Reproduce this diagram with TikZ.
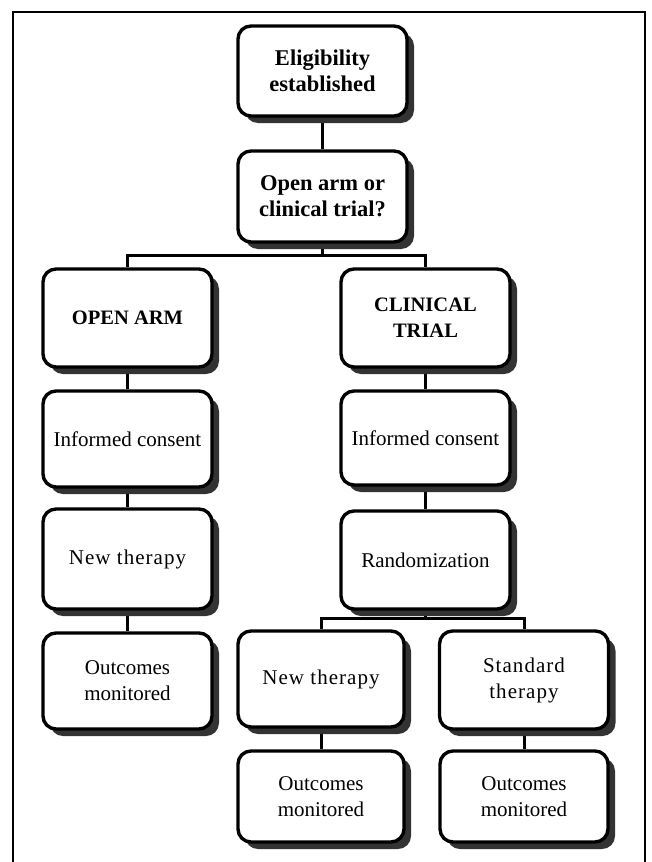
\documentclass[tikz,border=0pt]{standalone}
\usepackage{fontspec}
\setmainfont{Liberation Serif}
\usetikzlibrary{shadows,backgrounds}
\begin{document}
\begin{tikzpicture}[x=1pt,y=-1pt,
  box/.style={draw=black, line width=3.4pt, rounded corners=13pt, fill=white,
    align=center, minimum width=169pt, inner sep=0pt,
    font=\fontsize{21}{26}\selectfont,
    general shadow={shadow xshift=7pt, shadow yshift=-7pt, fill=black!80}},
  boldbox/.style={box, font=\bfseries\fontsize{22.5}{26}\selectfont},
  capsbox/.style={box, font=\bfseries\fontsize{20.5}{26}\selectfont},
  link/.style={line width=3pt},
  frame/.style={line width=2.2pt}]
\useasboundingbox (0,0) rectangle (651,862);
\draw[frame] (13,862) -- (13,12) -- (645,12) -- (645,862);

\node[boldbox, minimum height=90pt] (elig) at (322.5,71) {Eligibility\\established};
\node[boldbox, minimum height=91pt] (q) at (322.5,196.5) {Open arm or\\clinical trial?};
\node[capsbox, minimum height=98pt] (oa) at (127.5,318) {OPEN ARM};
\node[capsbox, minimum height=98pt] (ct) at (425.5,318) {CLINICAL\\TRIAL};
\node[box, minimum height=96pt] (ic1) at (127.5,439) {Informed consent};
\node[box, minimum height=94pt] (ic2) at (425.5,438) {Informed consent};
\node[box, minimum height=100pt] (nt1) at (127.5,559) {\addfontfeature{LetterSpace=5}New therapy};
\node[box, minimum height=98pt] (rand) at (425.5,560) {Randomization};
\node[box, minimum height=96pt] (out1) at (127.5,681) {Outcomes\\monitored};
\node[box, minimum width=166pt, minimum height=96pt] (nt2) at (321,679) {\addfontfeature{LetterSpace=5}New therapy};
\node[box, minimum height=98pt] (st) at (524,680) {\addfontfeature{LetterSpace=5}Standard\\\addfontfeature{LetterSpace=5}therapy};
\node[box, minimum width=166pt, minimum height=91pt] (out2) at (321,796.5) {Outcomes\\monitored};
\node[box, minimum width=168pt, minimum height=91pt] (out3) at (524,796.5) {Outcomes\\monitored};

\begin{scope}[on background layer]
\draw[link] (elig) -- (q);
\draw[link] (q.south) -- ++(0,12) -| (oa.north);
\draw[link] (q.south) -- ++(0,12) -| (ct.north);
\draw[link] (oa) -- (ic1);
\draw[link] (ic1) -- (nt1);
\draw[link] (nt1) -- (out1);
\draw[link] (ct) -- (ic2);
\draw[link] (ic2) -- (rand);
\draw[link] (rand.south) -- ++(0,8) -| (nt2.north);
\draw[link] (rand.south) -- ++(0,8) -| (st.north);
\draw[link] (nt2) -- (out2);
\draw[link] (st) -- (out3);
\end{scope}
\end{tikzpicture}
\end{document}
